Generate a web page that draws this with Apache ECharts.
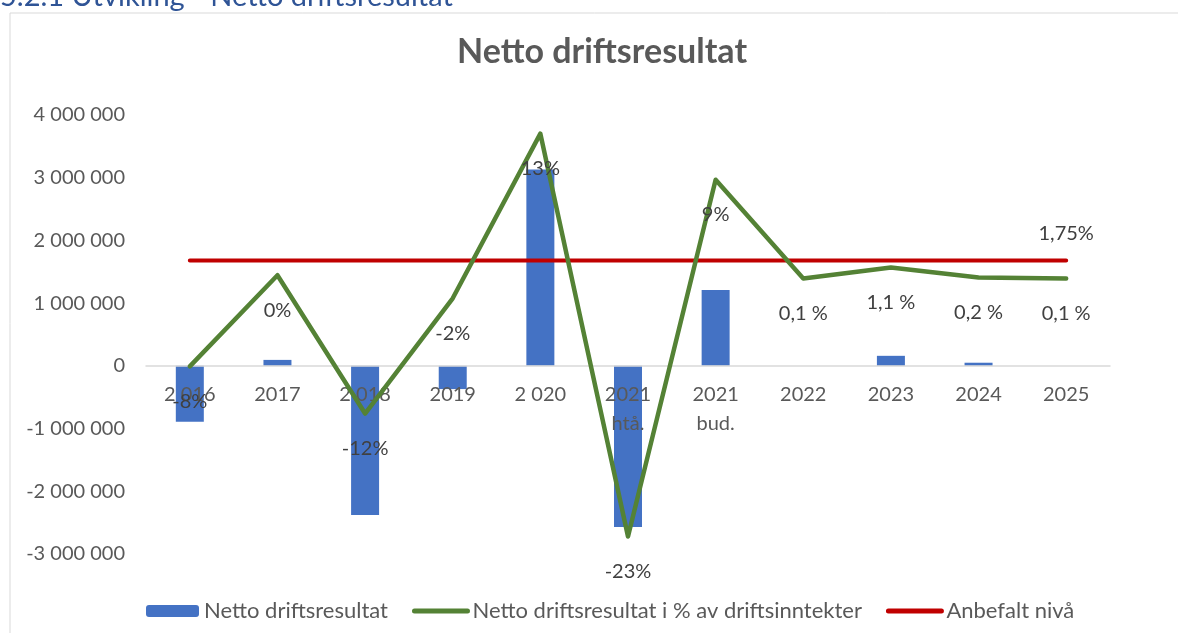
<!DOCTYPE html>
<html>
<head>
  <meta charset="UTF-8" />
  <title>Netto driftsresultat</title>
  <script src="https://cdn.jsdelivr.net/npm/echarts@6/dist/echarts.min.js"></script>
  <style>
    html, body { margin: 0; padding: 0; background: #fff; }
    #chart { width: 1178px; height: 633px; }
  </style>
</head>
<body>
  <div id="chart"></div>
  <script>
    // data
    const categories = ['2 016', '2017', '2 018', '2019', '2 020', '2021\nhtå.', '2021\nbud.', '2022', '2023', '2024', '2025'];
    const nettoDrift = [-890000, 95000, -2380000, -370000, 3130000, -2570000, 1210000, 0, 160000, 50000, 0];
    const prosent = [-7.9, 0.4, -12.2, -1.7, 13.3, -23.4, 9.1, 0.1, 1.1, 0.2, 0.1];
    const prosentLabels = ['-8%', '0%', '-12%', '-2%', '13%', '-23%', '9%', '0,1 %', '1,1 %', '0,2 %', '0,1 %'];
    const anbefalt = [1.75, 1.75, 1.75, 1.75, 1.75, 1.75, 1.75, 1.75, 1.75, 1.75, 1.75];
    const anbefaltLabel = '1,75%';

    const font = 'Lato';
    const grey = '#595959';
    const clear = 'rgba(0,0,0,0)';

    const chart = echarts.init(document.getElementById('chart'));

    // grid: top 115, bottom edge at 554 -> zero line sits 4/7 of the way down
    const gridTop = 115, gridBottom = 79;
    const plotH = 633 - gridTop - gridBottom;
    const zeroOffset = -(plotH * 3 / 7);

    chart.setOption({
      animation: false,
      textStyle: { fontFamily: font },
      title: {
        text: 'Netto driftsresultat',
        left: 597,
        textAlign: 'center',
        top: 30,
        textStyle: { fontSize: 34, fontWeight: 'bold', color: grey, fontFamily: font }
      },
      graphic: [
        {
          type: 'rect',
          shape: { x: 10, y: 13, width: 1300, height: 700 },
          style: { fill: 'none', stroke: '#d9d9d9', lineWidth: 1 },
          silent: true
        },
        {
          type: 'text',
          left: 0,
          top: -18,
          style: { text: '5.2.1 Utvikling - Netto driftsresultat', fontSize: 29, fill: '#2F5496', fontFamily: font },
          silent: true
        }
      ],
      legend: {
        left: 141,
        top: 595,
        itemWidth: 53,
        itemHeight: 12,
        itemGap: 24,
        textStyle: { fontSize: 22, color: grey, fontFamily: font },
        lineStyle: { width: 5, cap: 'round' },
        data: ['Netto driftsresultat', 'Netto driftsresultat i % av driftsinntekter', 'Anbefalt nivå']
      },
      grid: {
        left: 146, right: 68, top: gridTop, bottom: gridBottom,
        containLabel: false, outerBoundsMode: 'none'
      },
      xAxis: {
        type: 'category',
        data: categories,
        offset: zeroOffset,
        z: 3,
        axisLine: { onZero: false, lineStyle: { color: '#d9d9d9', width: 1.5 } },
        axisTick: { show: false },
        axisLabel: { margin: 14, fontSize: 20, lineHeight: 29, color: grey, fontFamily: font }
      },
      yAxis: [
        {
          type: 'value',
          min: -3000000,
          max: 4000000,
          interval: 1000000,
          axisLine: { show: false },
          axisTick: { show: false },
          splitLine: { show: false },
          axisLabel: {
            margin: 21,
            fontSize: 20,
            color: grey,
            fontFamily: font,
            formatter: v => v.toLocaleString('en-US').replace(/,/g, ' ')
          }
        },
        {
          type: 'value',
          min: -25,
          max: 15,
          interval: 5,
          show: false,
          splitLine: { show: false }
        }
      ],
      series: [
        {
          name: 'Netto driftsresultat',
          type: 'bar',
          data: nettoDrift,
          barWidth: 28,
          itemStyle: { color: '#4472C4' },
          z: 1
        },
        {
          name: 'Netto driftsresultat i % av driftsinntekter',
          type: 'line',
          yAxisIndex: 1,
          data: prosent,
          symbol: 'circle',
          symbolSize: 2,
          itemStyle: { color: clear },
          lineStyle: { color: '#548235', width: 4.5, cap: 'round', join: 'round' },
          emphasis: { disabled: true },
          label: {
            show: true,
            position: 'bottom',
            distance: 24,
            fontSize: 20,
            color: '#404040',
            fontFamily: font,
            formatter: p => prosentLabels[p.dataIndex]
          },
          z: 5
        },
        {
          name: 'Anbefalt nivå',
          type: 'line',
          yAxisIndex: 1,
          data: anbefalt,
          symbol: 'circle',
          symbolSize: 2,
          itemStyle: { color: clear },
          lineStyle: { color: '#C00000', width: 4, cap: 'round' },
          emphasis: { disabled: true },
          label: {
            show: true,
            position: 'top',
            distance: 16,
            fontSize: 20,
            color: '#404040',
            fontFamily: font,
            formatter: p => (p.dataIndex === anbefalt.length - 1 ? anbefaltLabel : '')
          },
          z: 4
        }
      ]
    });
  </script>
</body>
</html>
